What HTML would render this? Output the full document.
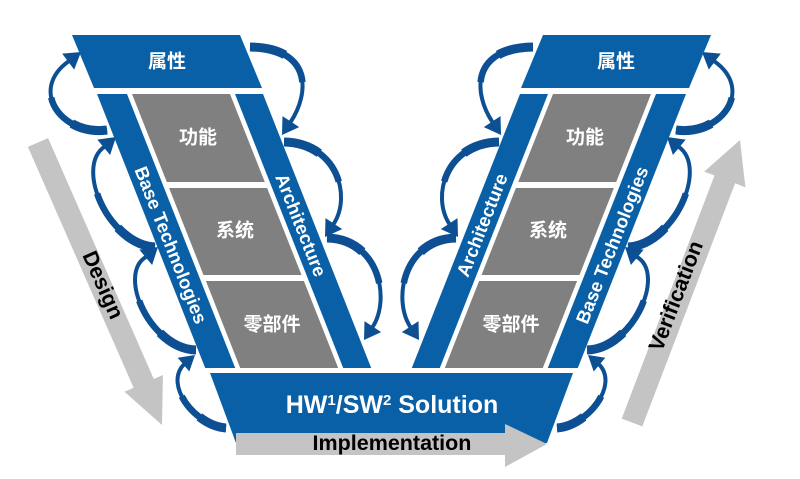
<!DOCTYPE html>
<html>
<head>
<meta charset="utf-8">
<style>
  html, body { margin: 0; padding: 0; background: #ffffff; }
  body { width: 800px; height: 479px; overflow: hidden; }
  svg { display: block; }
  .lat { font-family: "Liberation Sans", Arial, sans-serif; font-weight: bold; }
  .cjk { font-family: "Liberation Sans", "Noto Sans CJK SC", sans-serif; font-weight: bold; }
</style>
</head>
<body>
<svg width="800" height="479" viewBox="0 0 800 479" xmlns="http://www.w3.org/2000/svg">
  <defs>
    <path id="a1" pathLength="100" d="M107,130 C62,136 28,90 69,61"/>
    <path id="a2" pathLength="100" d="M155,247 C110,245 74,168 104.5,146.6"/>
    <path id="a3" pathLength="100" d="M196,350 C151,349 116,274 146.5,256.6"/>
    <path id="a4" pathLength="100" d="M226,428 C196,426 163,385 184.3,364"/>
    <path id="aA" pathLength="100" d="M250,47 C312,48 310,93 290.3,122.5"/>
    <path id="aB" pathLength="100" d="M284,142 C336,143 352.5,195.3 333.3,224.5"/>
    <path id="aC" pathLength="100" d="M327,238 C378,239 391.5,298.3 372.3,327.5"/>

    <g id="L">
      <!-- curved arrows -->
      <g fill="none" stroke="#0d4f93">
        <g stroke-width="4">
          <use href="#a1"/><use href="#a2"/><use href="#a3"/><use href="#a4"/>
          <use href="#aA"/><use href="#aB"/><use href="#aC"/>
        </g>
        <g stroke-width="6.5" stroke-dasharray="62 200">
          <use href="#a1"/><use href="#a2"/><use href="#a3"/><use href="#a4"/>
          <use href="#aA"/><use href="#aB"/><use href="#aC"/>
        </g>
        <g stroke-width="9" stroke-dasharray="32 200">
          <use href="#a1"/><use href="#a2"/><use href="#a3"/><use href="#a4"/>
          <use href="#aA"/><use href="#aB"/><use href="#aC"/>
        </g>
      </g>
      <g fill="#0d4f93">
        <polygon points="81,52 74.2,69.6 62.2,53.6"/>
        <polygon points="116,137 110.1,155 97.3,139.6"/>
        <polygon points="158,247 152.1,265 139.3,249.6"/>
        <polygon points="195,355 189.3,371.5 177.7,357.7"/>
        <polygon points="282,135 299.2,127.1 282.5,116.1"/>
        <polygon points="325,237 342.2,229.1 325.5,218.1"/>
        <polygon points="364,340 381.2,332.1 364.5,321.1"/>
      </g>
      <!-- blue shapes -->
      <g fill="#0a60a6">
        <polygon points="72,35 240,35 262,88 94,88"/>
        <polygon points="97,94 127,94 235.2,368 205.2,368"/>
        <polygon points="235,94 263,94 371.2,368 343.2,368"/>
      </g>
      <!-- gray panels -->
      <g fill="#808080">
        <polygon points="132,94 230,94 264.8,182 166.8,182"/>
        <polygon points="169.1,188 267.1,188 301.5,275 203.5,275"/>
        <polygon points="205.9,281 303.9,281 338.2,368 240.2,368"/>
      </g>
    </g>
  </defs>

  <!-- Design / Verification big gray arrows -->
  <polygon fill="#c4c4c4" points="27.9,146.9 48.1,138.1 153.8,379 162.9,375 162,425 124.5,391.8 133.6,387.8"/>
  <polygon fill="#c4c4c4" points="621.7,418.6 642.3,426.4 735.1,183.3 745.4,187.4 740,140 704.2,171.6 714.5,175.5"/>

  <!-- left and mirrored right arms -->
  <use href="#L"/>
  <use href="#L" transform="matrix(-1,0,0,1,783,0)"/>

  <!-- bottom bar -->
  <polygon fill="#0a60a6" points="210,373 573,373 547,443 236,443"/>
  <!-- implementation arrow -->
  <polygon fill="#c4c4c4" points="236,433 505,433 505,424 547,444 505,467 505,455 236,455"/>

  <!-- Chinese labels -->
  <g class="cjk" fill="#ffffff" font-size="19" text-anchor="middle" dominant-baseline="central">
    <text x="167" y="62">属性</text>
    <text x="616" y="62">属性</text>
    <text x="198" y="138">功能</text>
    <text x="235" y="231">系统</text>
    <text x="272" y="325">零部件</text>
    <text x="585" y="138">功能</text>
    <text x="548" y="231">系统</text>
    <text x="511" y="325">零部件</text>
  </g>

  <!-- strip labels -->
  <g class="lat" fill="#ffffff" font-size="18.5" text-anchor="middle" dominant-baseline="central">
    <text transform="translate(171,245) rotate(68.45)">Base Technologies</text>
    <text transform="translate(301,225) rotate(68.45)">Architecture</text>
    <text transform="translate(612,245) rotate(-68.45)">Base Technologies</text>
    <text transform="translate(482,225) rotate(-68.45)">Architecture</text>
  </g>

  <!-- HW/SW Solution -->
  <text class="lat" x="392" y="413" fill="#ffffff" font-size="25" text-anchor="middle">HW<tspan font-size="15" dy="-8">1</tspan><tspan dy="8">/SW</tspan><tspan font-size="15" dy="-8">2</tspan><tspan dy="8"> Solution</tspan></text>

  <!-- black labels -->
  <g class="lat" fill="#000000" font-size="21.5">
    <text x="392" y="450" text-anchor="middle">Implementation</text>
    <text transform="translate(103,285) rotate(66.3)" text-anchor="middle" dominant-baseline="central">Design</text>
    <text transform="translate(676,296) rotate(-69)" text-anchor="middle" dominant-baseline="central">Verification</text>
  </g>
</svg>
</body>
</html>
